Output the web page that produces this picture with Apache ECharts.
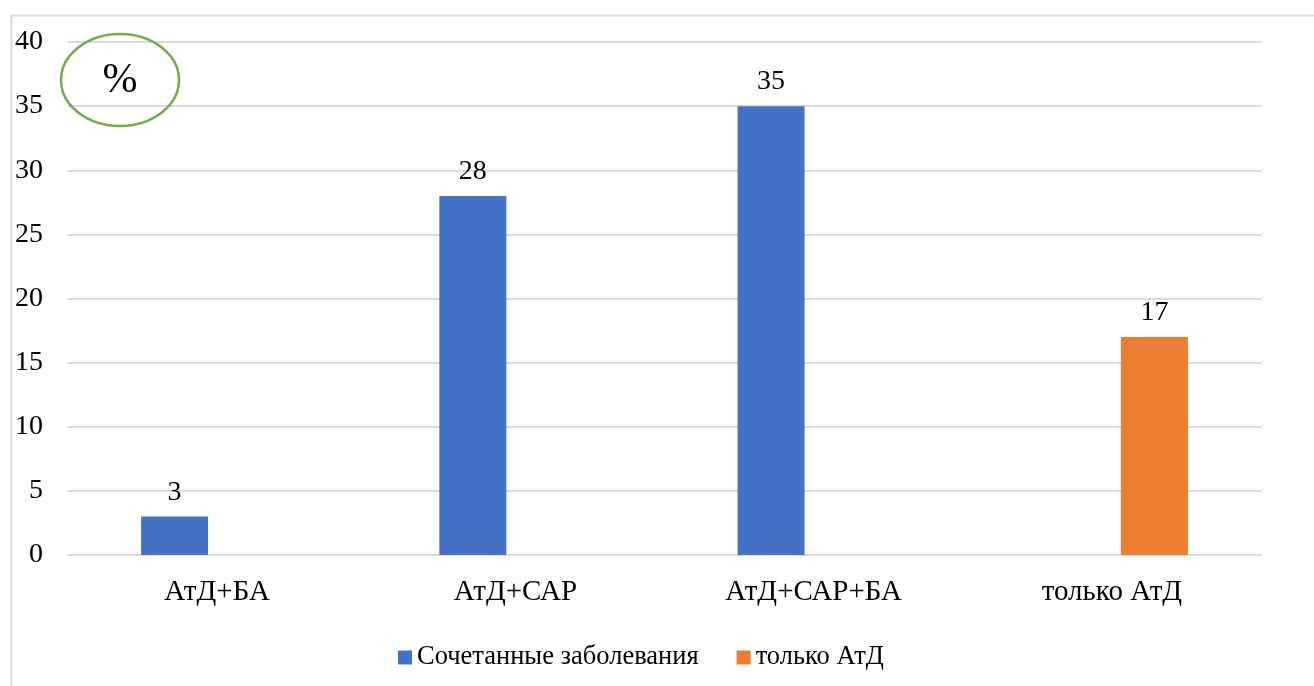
<!DOCTYPE html>
<html>
<head>
<meta charset="utf-8">
<script src="https://cdn.jsdelivr.net/npm/echarts@6/dist/echarts.min.js"></script>
<style>html,body{margin:0;padding:0;background:#fff;}#chart{width:1314px;height:686px;}</style>
</head>
<body>
<div id="chart"></div>
<script>
const categories = ['АтД+БА', 'АтД+САР', 'АтД+САР+БА', 'только АтД'];
const seriesNames = ['Сочетанные заболевания', 'только АтД'];
const combinedValues = [3, 28, 35, '-'];
const onlyAtdValues = ['-', '-', '-', 17];
const yTicks = { min: 0, max: 40, interval: 5 };
const unitLabel = '%';

const FONT = '"Liberation Serif", "DejaVu Serif", serif';
const chart = echarts.init(document.getElementById('chart'), null, { renderer: 'canvas' });
const labelStyle = { show: true, position: 'top', distance: 10, color: '#000', fontFamily: FONT, fontSize: 28 };
chart.setOption({
  animation: false,
  backgroundColor: '#fff',
  grid: { left: 68, right: 53, top: 42, height: 513 },
  legend: {
    bottom: 10, left: 393,
    itemWidth: 14, itemHeight: 14, itemGap: 38,
    icon: 'rect',
    textStyle: { color: '#000', fontFamily: FONT, fontSize: 26.5 },
    data: seriesNames
  },
  xAxis: {
    type: 'category', data: categories,
    axisLine: { lineStyle: { color: '#D9D9D9', width: 2 } },
    axisTick: { show: false },
    axisLabel: { color: '#000', fontFamily: FONT, fontSize: 29, margin: 23 }
  },
  yAxis: {
    type: 'value', min: yTicks.min, max: yTicks.max, interval: yTicks.interval,
    axisLine: { show: false }, axisTick: { show: false },
    splitLine: { lineStyle: { color: '#D9D9D9', width: 2 } },
    axisLabel: { color: '#000', fontFamily: FONT, fontSize: 28, margin: 25 }
  },
  series: [
    { name: seriesNames[0], type: 'bar', data: combinedValues, barWidth: 67, barGap: '27%',
      itemStyle: { color: '#4472C4' }, label: labelStyle },
    { name: seriesNames[1], type: 'bar', data: onlyAtdValues, barWidth: 67, barGap: '27%',
      itemStyle: { color: '#ED7D31' }, label: labelStyle }
  ],
  graphic: [
    { type: 'rect', left: 9, top: 13, shape: { x: 0, y: 0, width: 1400, height: 800 },
      style: { fill: 'none', stroke: '#D9D9D9', lineWidth: 2 }, silent: true, z: -1 },
    { type: 'ellipse', shape: { cx: 120, cy: 80, rx: 59, ry: 46 },
      style: { fill: 'none', stroke: '#70AD47', lineWidth: 2.5 }, z: 10 },
    { type: 'text', x: 120, y: 81,
      style: { text: unitLabel, fill: '#000', font: '42px ' + FONT, align: 'center', verticalAlign: 'middle' }, z: 11 }
  ]
});
</script>
</body>
</html>
